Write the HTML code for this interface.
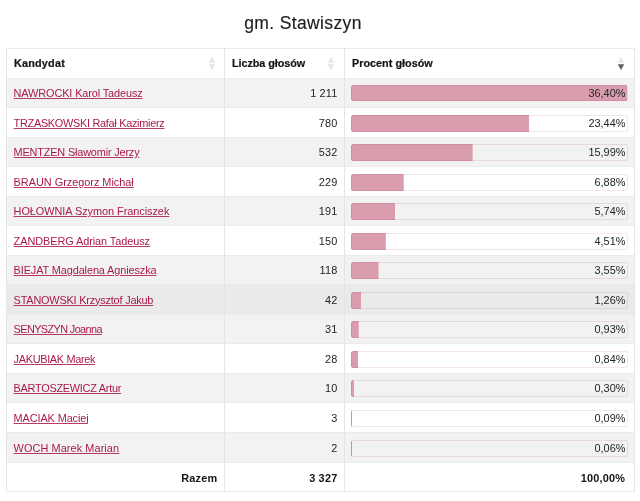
<!DOCTYPE html>
<html lang="pl"><head><meta charset="utf-8"><title>gm. Stawiszyn</title>
<style>
html,body{margin:0;padding:0;background:#fff;}
body{width:640px;height:501px;overflow:hidden;position:relative;font-family:"Liberation Sans",sans-serif;color:#212529;}
h2{position:absolute;left:0;top:0;width:606px;margin:0;text-align:center;font-weight:normal;font-size:17.5px;line-height:24px;padding-top:11px;color:#1c1c1c;-webkit-text-stroke:0.15px #1c1c1c;letter-spacing:0.358px;white-space:nowrap;}
.tbl{position:absolute;left:6px;top:48px;width:629px;height:444px;font-size:10.9px;}
.tr{position:absolute;left:0;width:629px;}
.td,.th{position:absolute;top:1px;bottom:0;display:flex;align-items:center;box-sizing:border-box;white-space:nowrap;}
.c1{left:1px;width:217px;padding-left:6.6px;}
.c2{left:219px;width:119px;}
.c3{left:339px;width:289px;}
.th{font-weight:bold;font-size:10.3px;color:#141414;-webkit-text-stroke:0.2px #141414;}
.th.c2,.th.c3{padding-left:6.6px;}
.td.c2{justify-content:flex-end;padding-right:6.6px;}
.head,.even,.foot{background:#fff;}
.odd{background:#f2f2f2;}
.hov{background:#eaeaea;}
.td a{color:#aa1a45;text-decoration:underline;text-decoration-color:rgba(170,26,69,0.85);text-underline-offset:1px;}
.foot .td{font-weight:bold;color:#141414;}
.foot .c1{justify-content:flex-end;padding-right:6.6px;}
.foot .c3{justify-content:flex-end;padding-right:8.8px;}
.foot .td span{position:relative;top:0.5px;}
.sort{position:absolute;right:8.6px;top:7.8px;}
.c1 .sort{right:7.8px;}
.th span{position:relative;top:-0.3px;display:inline-block;transform:scaleX(1.05);transform-origin:0 50%;}
.bar{position:absolute;left:6px;bottom:5px;width:277px;height:17px;border:1px solid rgba(168,18,62,0.115);border-radius:2.5px;box-sizing:border-box;background:linear-gradient(#d99dad,#d99dad) no-repeat 0 0;background-origin:border-box;background-clip:border-box;}
.b16{height:16px;bottom:6px;}
.b16 .pct{line-height:16px;}
.pct{position:absolute;right:1.6px;top:-1px;line-height:17px;}
.hl{position:absolute;left:0;width:629px;height:1px;background:#ebebeb;}
.vl{position:absolute;top:0;height:444px;width:1px;background:#e5e5e5;}
</style></head><body>
<h2>gm. Stawiszyn</h2>
<div class="tbl">
<div class="tr head" style="top:0px;height:30px"><div class="th c1"><span style="letter-spacing:0.2px">Kandydat</span><svg class="sort" width="8" height="14" viewBox="0 0 8 14"><polygon points="0.8,5.5 4,0 7.2,5.5" fill="#e5e5e5"/><polygon points="0.8,7.2 4,12.9 7.2,7.2" fill="#e5e5e5"/></svg></div><div class="th c2"><span style="letter-spacing:-0.056px">Liczba głosów</span><svg class="sort" width="8" height="14" viewBox="0 0 8 14"><polygon points="0.8,5.5 4,0 7.2,5.5" fill="#e5e5e5"/><polygon points="0.8,7.2 4,12.9 7.2,7.2" fill="#e5e5e5"/></svg></div><div class="th c3"><span style="letter-spacing:0.014px">Procent głosów</span><svg class="sort" width="8" height="14" viewBox="0 0 8 14"><polygon points="0.8,5.5 4,0 7.2,5.5" fill="#e5e5e5"/><polygon points="0.8,7.2 4,12.9 7.2,7.2" fill="#5f5f5f"/></svg></div></div>
<div class="tr odd" style="top:30px;height:29px"><div class="td c1"><a href="#" style="letter-spacing:-0.106px">NAWROCKI Karol Tadeusz</a></div><div class="td c2"><span style="letter-spacing:0.15px">1 211</span></div><div class="td c3"><div class="bar b16" style="background-size:276.00px 100%"><span class="pct" style="letter-spacing:0.0px">36,40%</span></div></div></div>
<div class="tr even" style="top:59px;height:30px"><div class="td c1"><a href="#" style="letter-spacing:-0.285px">TRZASKOWSKI Rafał Kazimierz</a></div><div class="td c2"><span style="letter-spacing:0.15px">780</span></div><div class="td c3"><div class="bar" style="background-size:177.98px 100%"><span class="pct" style="letter-spacing:0.0px">23,44%</span></div></div></div>
<div class="tr odd" style="top:89px;height:29px"><div class="td c1"><a href="#" style="letter-spacing:-0.167px">MENTZEN Sławomir Jerzy</a></div><div class="td c2"><span style="letter-spacing:0.15px">532</span></div><div class="td c3"><div class="bar" style="background-size:121.64px 100%"><span class="pct" style="letter-spacing:0.0px">15,99%</span></div></div></div>
<div class="tr even" style="top:118px;height:30px"><div class="td c1"><a href="#" style="letter-spacing:-0.012px">BRAUN Grzegorz Michał</a></div><div class="td c2"><span style="letter-spacing:0.15px">229</span></div><div class="td c3"><div class="bar" style="background-size:52.73px 100%"><span class="pct" style="letter-spacing:0.0px">6,88%</span></div></div></div>
<div class="tr odd" style="top:148px;height:29px"><div class="td c1"><a href="#" style="letter-spacing:-0.04px">HOŁOWNIA Szymon Franciszek</a></div><div class="td c2"><span style="letter-spacing:0.15px">191</span></div><div class="td c3"><div class="bar" style="background-size:44.11px 100%"><span class="pct" style="letter-spacing:0.0px">5,74%</span></div></div></div>
<div class="tr even" style="top:177px;height:30px"><div class="td c1"><a href="#" style="letter-spacing:-0.064px">ZANDBERG Adrian Tadeusz</a></div><div class="td c2"><span style="letter-spacing:0.15px">150</span></div><div class="td c3"><div class="bar" style="background-size:34.81px 100%"><span class="pct" style="letter-spacing:0.0px">4,51%</span></div></div></div>
<div class="tr odd" style="top:207px;height:29px"><div class="td c1"><a href="#" style="letter-spacing:-0.102px">BIEJAT Magdalena Agnieszka</a></div><div class="td c2"><span style="letter-spacing:0.15px">118</span></div><div class="td c3"><div class="bar" style="background-size:27.55px 100%"><span class="pct" style="letter-spacing:0.0px">3,55%</span></div></div></div>
<div class="tr hov" style="top:236px;height:30px"><div class="td c1"><a href="#" style="letter-spacing:-0.192px">STANOWSKI Krzysztof Jakub</a></div><div class="td c2"><span style="letter-spacing:0.15px">42</span></div><div class="td c3"><div class="bar" style="background-size:10.23px 100%"><span class="pct" style="letter-spacing:0.0px">1,26%</span></div></div></div>
<div class="tr odd" style="top:266px;height:29px"><div class="td c1"><a href="#" style="letter-spacing:-0.61px">SENYSZYN Joanna</a></div><div class="td c2"><span style="letter-spacing:0.15px">31</span></div><div class="td c3"><div class="bar" style="background-size:7.73px 100%"><span class="pct" style="letter-spacing:0.0px">0,93%</span></div></div></div>
<div class="tr even" style="top:295px;height:30px"><div class="td c1"><a href="#" style="letter-spacing:-0.309px">JAKUBIAK Marek</a></div><div class="td c2"><span style="letter-spacing:0.15px">28</span></div><div class="td c3"><div class="bar" style="background-size:7.05px 100%"><span class="pct" style="letter-spacing:0.0px">0,84%</span></div></div></div>
<div class="tr odd" style="top:325px;height:29px"><div class="td c1"><a href="#" style="letter-spacing:-0.26px">BARTOSZEWICZ Artur</a></div><div class="td c2"><span style="letter-spacing:0.15px">10</span></div><div class="td c3"><div class="bar" style="background-size:2.97px 100%"><span class="pct" style="letter-spacing:0.0px">0,30%</span></div></div></div>
<div class="tr even" style="top:354px;height:30px"><div class="td c1"><a href="#" style="letter-spacing:-0.099px">MACIAK Maciej</a></div><div class="td c2"><span style="letter-spacing:0.15px">3</span></div><div class="td c3"><div class="bar" style="background-size:1.38px 100%"><span class="pct" style="letter-spacing:0.0px">0,09%</span></div></div></div>
<div class="tr odd" style="top:384px;height:30px"><div class="td c1"><a href="#" style="letter-spacing:0.086px">WOCH Marek Marian</a></div><div class="td c2"><span style="letter-spacing:0.15px">2</span></div><div class="td c3"><div class="bar" style="background-size:1.15px 100%"><span class="pct" style="letter-spacing:0.0px">0,06%</span></div></div></div>
<div class="tr foot" style="top:414px;height:29px"><div class="td c1"><span style="letter-spacing:0.2px">Razem</span></div><div class="td c2"><span style="letter-spacing:0.2px">3 327</span></div><div class="td c3"><span style="letter-spacing:0.2px">100,00%</span></div></div>
<div class="hl" style="top:0px"></div>
<div class="hl" style="top:30px"></div>
<div class="hl" style="top:59px"></div>
<div class="hl" style="top:89px"></div>
<div class="hl" style="top:118px"></div>
<div class="hl" style="top:148px"></div>
<div class="hl" style="top:177px"></div>
<div class="hl" style="top:207px"></div>
<div class="hl" style="top:236px"></div>
<div class="hl" style="top:266px"></div>
<div class="hl" style="top:295px"></div>
<div class="hl" style="top:325px"></div>
<div class="hl" style="top:354px"></div>
<div class="hl" style="top:384px"></div>
<div class="hl" style="top:414px"></div>
<div class="hl" style="top:443px"></div>
<div class="vl" style="left:0px"></div>
<div class="vl" style="left:218px"></div>
<div class="vl" style="left:338px"></div>
<div class="vl" style="left:628px"></div>
</div>
</body></html>
